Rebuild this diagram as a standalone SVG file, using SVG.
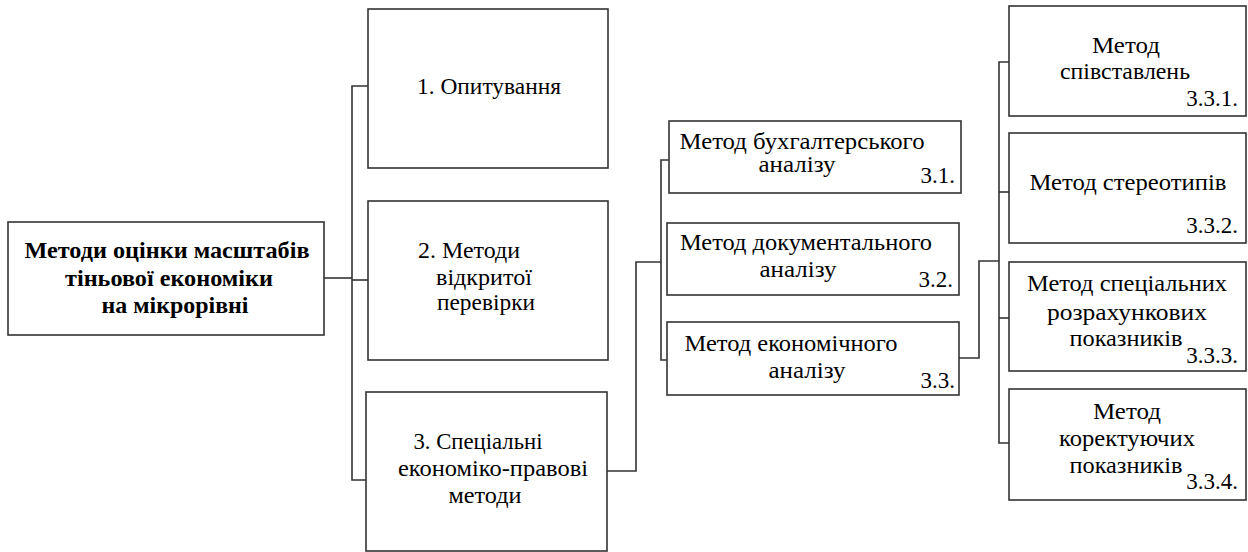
<svg xmlns="http://www.w3.org/2000/svg" width="1248" height="552" viewBox="0 0 1248 552">
<style>
.box{fill:#fff;stroke:#333;stroke-width:1.6}
.c{fill:none;stroke:#333;stroke-width:1.6}
text{font-family:"Liberation Serif","Times New Roman",serif;font-size:23px;fill:#000}
.b{font-weight:bold}
.m{text-anchor:middle}
.e{text-anchor:end}
</style>
<rect width="1248" height="552" fill="#fff"/>
<g id="connectors">
<polyline class="c" points="324,278 352,278"/>
<polyline class="c" points="368,86 352,86 352,480 366,480"/>
<polyline class="c" points="352,280 368,280"/>
<polyline class="c" points="607,471 636,471 636,262 661,262"/>
<polyline class="c" points="669,160 661,160 661,360 667,360"/>
<polyline class="c" points="958,358 979,358 979,261 999,261"/>
<polyline class="c" points="1009,62 999,62 999,443 1009,443"/>
<polyline class="c" points="999,192 1009,192"/>
<polyline class="c" points="999,318 1009,318"/>
</g>
<g id="root">
<rect class="box" x="8" y="222" width="316" height="113"/>
<text class="b m" x="167" y="258" textLength="285" lengthAdjust="spacingAndGlyphs">Методи оцінки масштабів</text>
<text class="b m" x="169" y="286" textLength="208" lengthAdjust="spacingAndGlyphs">тіньової економіки</text>
<text class="b m" x="175" y="313" textLength="147" lengthAdjust="spacingAndGlyphs">на мікрорівні</text>
</g>
<g id="n1">
<rect class="box" x="368" y="9" width="240" height="159"/>
<text class="m" x="489" y="94" textLength="144" lengthAdjust="spacingAndGlyphs">1. Опитування</text>
</g>
<g id="n2">
<rect class="box" x="368" y="201" width="240" height="159"/>
<text class="m" x="469" y="258" textLength="102" lengthAdjust="spacingAndGlyphs">2. Методи</text>
<text class="m" x="484" y="285" textLength="96" lengthAdjust="spacingAndGlyphs">відкритої</text>
<text class="m" x="486" y="310" textLength="98" lengthAdjust="spacingAndGlyphs">перевірки</text>
</g>
<g id="n3">
<rect class="box" x="366" y="392" width="241" height="159"/>
<text class="m" x="478" y="449" textLength="129" lengthAdjust="spacingAndGlyphs">3. Спеціальні</text>
<text class="m" x="493" y="476" textLength="190" lengthAdjust="spacingAndGlyphs">економіко-правові</text>
<text class="m" x="485" y="503" textLength="73" lengthAdjust="spacingAndGlyphs">методи</text>
</g>
<g id="n31">
<rect class="box" x="669" y="121" width="292" height="72"/>
<text class="m" x="802" y="149" textLength="245" lengthAdjust="spacingAndGlyphs">Метод бухгалтерського</text>
<text class="m" x="797" y="172" textLength="77" lengthAdjust="spacingAndGlyphs">аналізу</text>
<text class="e" x="955" y="183">3.1.</text>
</g>
<g id="n32">
<rect class="box" x="667" y="223" width="292" height="72"/>
<text class="m" x="806" y="250" textLength="252" lengthAdjust="spacingAndGlyphs">Метод документального</text>
<text class="m" x="798" y="277" textLength="77" lengthAdjust="spacingAndGlyphs">аналізу</text>
<text class="e" x="953" y="287">3.2.</text>
</g>
<g id="n33">
<rect class="box" x="667" y="322" width="292" height="73"/>
<text class="m" x="791" y="351" textLength="213" lengthAdjust="spacingAndGlyphs">Метод економічного</text>
<text class="m" x="807" y="378" textLength="77" lengthAdjust="spacingAndGlyphs">аналізу</text>
<text class="e" x="955" y="388">3.3.</text>
</g>
<g id="n331">
<rect class="box" x="1009" y="6" width="237" height="110"/>
<text class="m" x="1126" y="53" textLength="68" lengthAdjust="spacingAndGlyphs">Метод</text>
<text class="m" x="1125" y="79" textLength="130" lengthAdjust="spacingAndGlyphs">співставлень</text>
<text class="e" x="1238" y="106">3.3.1.</text>
</g>
<g id="n332">
<rect class="box" x="1009" y="133" width="237" height="110"/>
<text class="m" x="1128" y="190" textLength="197" lengthAdjust="spacingAndGlyphs">Метод стереотипів</text>
<text class="e" x="1238" y="233">3.3.2.</text>
</g>
<g id="n333">
<rect class="box" x="1009" y="262" width="237" height="109"/>
<text class="m" x="1127" y="291" textLength="200" lengthAdjust="spacingAndGlyphs">Метод спеціальних</text>
<text class="m" x="1127" y="320" textLength="160" lengthAdjust="spacingAndGlyphs">розрахункових</text>
<text class="m" x="1126" y="346" textLength="113" lengthAdjust="spacingAndGlyphs">показників</text>
<text class="e" x="1238" y="363">3.3.3.</text>
</g>
<g id="n334">
<rect class="box" x="1009" y="389" width="237" height="111"/>
<text class="m" x="1127" y="419" textLength="68" lengthAdjust="spacingAndGlyphs">Метод</text>
<text class="m" x="1127" y="446" textLength="136" lengthAdjust="spacingAndGlyphs">коректуючих</text>
<text class="m" x="1126" y="473" textLength="113" lengthAdjust="spacingAndGlyphs">показників</text>
<text class="e" x="1238" y="489">3.3.4.</text>
</g>
</svg>
